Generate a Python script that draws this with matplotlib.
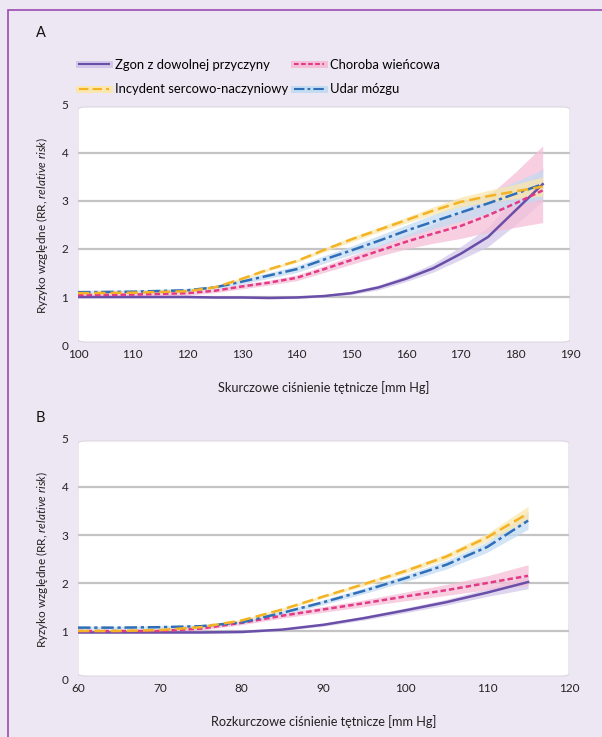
import matplotlib
matplotlib.use("Agg")
import matplotlib.pyplot as plt
from matplotlib.patches import FancyBboxPatch, Rectangle
from matplotlib.lines import Line2D
import numpy as np

plt.rcParams["font.family"] = ["Lato", "DejaVu Sans"]
plt.rcParams["mathtext.fontset"] = "custom"
plt.rcParams["mathtext.rm"] = "Lato"
plt.rcParams["mathtext.it"] = "Lato:italic"

# panel A: systolic pressure
sbp = [100, 110, 120, 125, 130, 135, 140, 145, 150, 155, 160, 165, 170, 175, 180, 185]
a_death = [1.0, 1.0, 1.0, 0.99, 0.99, 0.98, 0.99, 1.02, 1.08, 1.2, 1.38, 1.6, 1.9, 2.25, 2.8, 3.35]
a_death_lo = [0.98, 0.98, 0.98, 0.97, 0.97, 0.96, 0.97, 1.0, 1.05, 1.15, 1.32, 1.52, 1.78, 2.05, 2.5, 3.0]
a_death_hi = [1.02, 1.02, 1.02, 1.01, 1.01, 1.0, 1.01, 1.05, 1.12, 1.25, 1.45, 1.7, 2.05, 2.45, 3.1, 3.7]
a_cad = [1.04, 1.05, 1.08, 1.13, 1.22, 1.3, 1.4, 1.58, 1.77, 1.96, 2.15, 2.32, 2.48, 2.7, 2.95, 3.22]
a_cad_lo = [1.0, 1.01, 1.04, 1.09, 1.17, 1.25, 1.34, 1.51, 1.68, 1.85, 2.0, 2.12, 2.22, 2.35, 2.45, 2.55]
a_cad_hi = [1.08, 1.09, 1.12, 1.17, 1.27, 1.35, 1.46, 1.65, 1.86, 2.07, 2.3, 2.52, 2.78, 3.1, 3.6, 4.15]
a_cvd = [1.08, 1.09, 1.12, 1.2, 1.38, 1.58, 1.75, 1.98, 2.2, 2.4, 2.6, 2.8, 2.98, 3.1, 3.2, 3.3]
a_cvd_lo = [1.06, 1.07, 1.1, 1.18, 1.35, 1.55, 1.72, 1.94, 2.15, 2.35, 2.54, 2.72, 2.88, 2.98, 3.05, 3.1]
a_cvd_hi = [1.1, 1.11, 1.14, 1.22, 1.41, 1.61, 1.78, 2.02, 2.25, 2.45, 2.66, 2.88, 3.08, 3.22, 3.35, 3.5]
a_stroke = [1.1, 1.11, 1.14, 1.2, 1.32, 1.45, 1.58, 1.78, 1.97, 2.17, 2.38, 2.57, 2.76, 2.95, 3.15, 3.35]
a_stroke_lo = [1.06, 1.07, 1.1, 1.16, 1.27, 1.39, 1.51, 1.7, 1.88, 2.06, 2.25, 2.42, 2.58, 2.74, 2.9, 3.05]
a_stroke_hi = [1.14, 1.15, 1.18, 1.24, 1.37, 1.51, 1.65, 1.86, 2.06, 2.28, 2.5, 2.72, 2.94, 3.16, 3.4, 3.65]

# panel B: diastolic pressure
dbp = [60, 65, 70, 75, 80, 85, 90, 95, 100, 105, 110, 115]
b_death = [0.97, 0.97, 0.97, 0.97, 0.98, 1.03, 1.13, 1.27, 1.43, 1.6, 1.8, 2.02]
b_death_lo = [0.95, 0.95, 0.95, 0.95, 0.96, 1.01, 1.1, 1.23, 1.38, 1.54, 1.72, 1.88]
b_death_hi = [0.99, 0.99, 0.99, 0.99, 1.0, 1.05, 1.16, 1.31, 1.48, 1.66, 1.88, 2.15]
b_cad = [1.0, 1.0, 1.0, 1.05, 1.17, 1.32, 1.45, 1.58, 1.72, 1.85, 2.0, 2.15]
b_cad_lo = [0.97, 0.97, 0.97, 1.02, 1.13, 1.27, 1.39, 1.51, 1.63, 1.74, 1.86, 1.95]
b_cad_hi = [1.03, 1.03, 1.03, 1.08, 1.21, 1.37, 1.51, 1.65, 1.81, 1.97, 2.15, 2.38]
b_cvd = [1.0, 1.0, 1.02, 1.08, 1.22, 1.45, 1.72, 1.98, 2.25, 2.55, 2.95, 3.45]
b_cvd_lo = [0.98, 0.98, 1.0, 1.06, 1.2, 1.42, 1.69, 1.94, 2.2, 2.49, 2.87, 3.32]
b_cvd_hi = [1.02, 1.02, 1.04, 1.1, 1.24, 1.48, 1.75, 2.02, 2.3, 2.61, 3.03, 3.6]
b_stroke = [1.07, 1.07, 1.08, 1.1, 1.18, 1.38, 1.6, 1.84, 2.1, 2.38, 2.75, 3.3]
b_stroke_lo = [1.04, 1.04, 1.05, 1.07, 1.15, 1.34, 1.55, 1.78, 2.03, 2.29, 2.64, 3.12]
b_stroke_hi = [1.1, 1.1, 1.11, 1.13, 1.21, 1.42, 1.65, 1.9, 2.17, 2.47, 2.86, 3.48]

labels = ["Zgon z dowolnej przyczyny", "Choroba wieńcowa",
          "Incydent sercowo-naczyniowy", "Udar mózgu"]

c_death = "#6a4fa8"
c_cad = "#e23a86"
c_cvd = "#f4b324"
c_stroke = "#2f6fb8"
band_death = "#d3c8ea"
band_cad = "#f5bfd8"
band_cvd = "#fbe6ad"
band_stroke = "#c3dcf2"

bg = "#ede6f3"
border = "#9a4db0"

fig = plt.figure(figsize=(6.02, 7.37), dpi=100)
fig.patch.set_facecolor(bg)
fig.patches.append(Rectangle((8 / 602, -0.1), 1.2, (737 - 10) / 737 + 0.1, transform=fig.transFigure,
                             fill=False, edgecolor=border, linewidth=1.2))

dash_cad = (0, (2.2, 1.2))
dash_cvd = (0, (4.5, 2.0))
dash_stroke = (0, (5, 1.5, 1.3, 1.5))


def panel(rect, x, series, xlim, xticks, xlabel):
    ax = fig.add_axes(rect)
    ax.set_facecolor("none")
    ax.set_xlim(*xlim)
    ax.set_ylim(0, 5)
    box = FancyBboxPatch((0.0, 0.012), 1.0, 0.98, boxstyle="round,pad=0,rounding_size=0.02",
                         transform=ax.transAxes, facecolor="white", edgecolor="#dcd6e0",
                         linewidth=0.8, zorder=0, mutation_aspect=0.5)
    ax.add_patch(box)
    for g in [1, 2, 3, 4]:
        ax.axhline(g, color="#c4c4c4", linewidth=1.6, zorder=1)
    for y, lo, hi, col, band, ls in series:
        ax.fill_between(x, lo, hi, color=band, alpha=0.75, linewidth=0, zorder=2)
    for y, lo, hi, col, band, ls in series:
        ax.plot(x, y, color=col, linestyle=ls, linewidth=1.8, zorder=3)
    for s in ax.spines.values():
        s.set_visible(False)
    ax.set_xticks(xticks)
    ax.set_yticks([0, 1, 2, 3, 4, 5])
    ax.tick_params(length=0, labelsize=8.5, colors="#222222", pad=3)
    ax.tick_params(axis="y", pad=7)
    ax.set_xlabel(xlabel, fontsize=9.2, color="#222222", labelpad=15)
    ax.set_ylabel("Ryzyko względne (RR, $relative\\ risk$)", fontsize=8.5, color="#222222", labelpad=8)
    return ax


axA = panel([78 / 602, (737 - 345) / 737, 492 / 602, 240 / 737], sbp,
            [(a_death, a_death_lo, a_death_hi, c_death, band_death, "-"),
             (a_cad, a_cad_lo, a_cad_hi, c_cad, band_cad, dash_cad),
             (a_stroke, a_stroke_lo, a_stroke_hi, c_stroke, band_stroke, dash_stroke),
             (a_cvd, a_cvd_lo, a_cvd_hi, c_cvd, band_cvd, dash_cvd)],
            (100, 190), [100, 110, 120, 130, 140, 150, 160, 170, 180, 190],
            "Skurczowe ciśnienie tętnicze [mm Hg]")

axB = panel([78 / 602, (737 - 679) / 737, 491 / 602, 240 / 737], dbp,
            [(b_death, b_death_lo, b_death_hi, c_death, band_death, "-"),
             (b_cad, b_cad_lo, b_cad_hi, c_cad, band_cad, dash_cad),
             (b_stroke, b_stroke_lo, b_stroke_hi, c_stroke, band_stroke, dash_stroke),
             (b_cvd, b_cvd_lo, b_cvd_hi, c_cvd, band_cvd, dash_cvd)],
            (60, 120), [60, 70, 80, 90, 100, 110, 120],
            "Rozkurczowe ciśnienie tętnicze [mm Hg]")

fig.text(36 / 602, 1 - 33 / 737, "A", fontsize=10.5, color="#111111", va="center")
fig.text(36 / 602, 1 - 418 / 737, "B", fontsize=10.5, color="#111111", va="center")

# legend, filled column by column: row 1 = Zgon, Choroba; row 2 = Incydent, Udar
styles = {labels[0]: (c_death, band_death, "-"), labels[1]: (c_cad, band_cad, dash_cad),
          labels[2]: (c_cvd, band_cvd, dash_cvd), labels[3]: (c_stroke, band_stroke, dash_stroke)}
order = [labels[0], labels[2], labels[1], labels[3]]
handles = []
for name in order:
    col, band, ls = styles[name]
    handles.append((Line2D([], [], color=band, linewidth=5),
                    Line2D([], [], color=col, linestyle=ls, linewidth=1.5)))
leg = fig.legend(handles, order, ncol=2, loc="upper left",
                 bbox_to_anchor=(67 / 602, 1 - 47 / 737), frameon=False,
                 prop={"size": 9.4}, handlelength=2.3, handletextpad=0.5,
                 columnspacing=0.4, labelspacing=0.95)

fig.savefig("out.png", dpi=100, facecolor=bg)
